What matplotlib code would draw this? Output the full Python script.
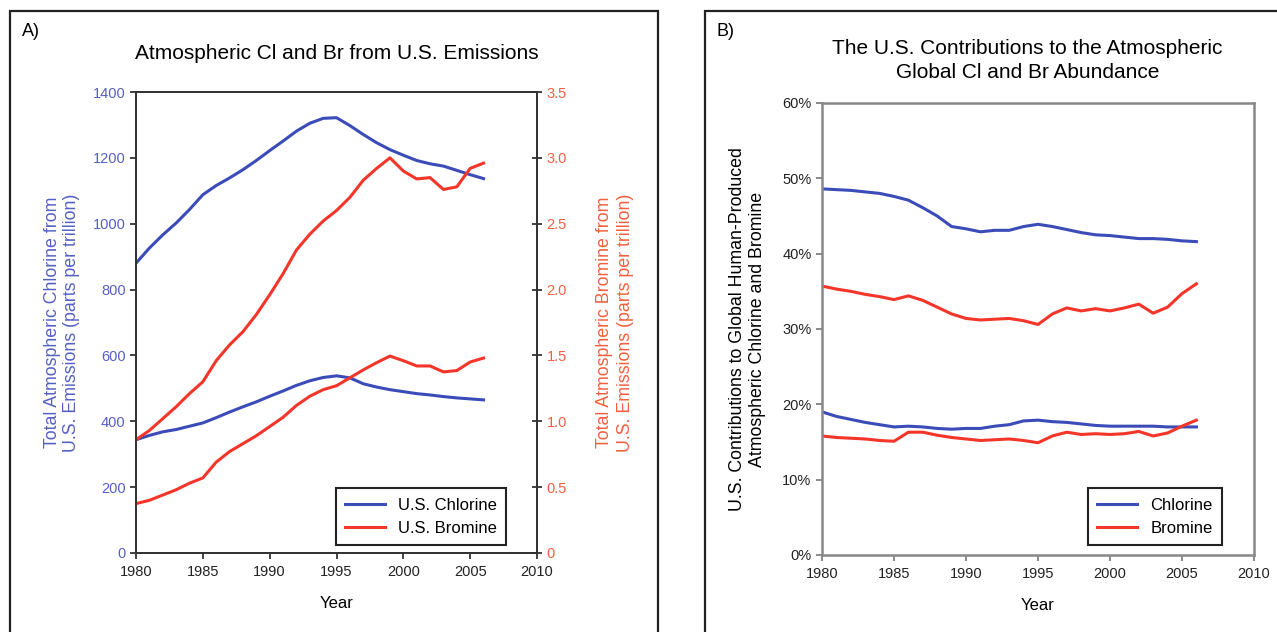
import matplotlib
matplotlib.use("Agg")
import matplotlib.pyplot as plt
from matplotlib.patches import Rectangle
from matplotlib.ticker import FixedLocator, FuncFormatter
import numpy as np

plt.rcParams['font.family'] = ['Liberation Sans', 'DejaVu Sans']

# data
years = np.arange(1980, 2007)

# panel A: ppt from U.S. emissions
cl_upper = [880, 926, 966, 1002, 1043, 1088, 1116, 1139, 1164, 1192, 1222, 1251, 1281, 1305,
            1320, 1322, 1298, 1271, 1246, 1225, 1208, 1192, 1182, 1175, 1162, 1149, 1137]
cl_lower = [344, 357, 368, 375, 385, 395, 411, 428, 444, 459, 476, 492, 509, 523,
            533, 538, 532, 514, 504, 496, 490, 484, 480, 475, 471, 468, 465]
br_upper = [0.86, 0.93, 1.02, 1.11, 1.21, 1.30, 1.46, 1.58, 1.68, 1.81, 1.96, 2.12, 2.30, 2.42,
            2.52, 2.60, 2.70, 2.83, 2.92, 3.00, 2.90, 2.84, 2.85, 2.76, 2.78, 2.92, 2.96]
br_lower = [0.375, 0.40, 0.44, 0.48, 0.53, 0.57, 0.69, 0.77, 0.83, 0.89, 0.96, 1.03, 1.12, 1.19,
            1.24, 1.27, 1.33, 1.39, 1.445, 1.495, 1.46, 1.42, 1.42, 1.375, 1.385, 1.45, 1.48]

# panel B: U.S. share of global human-produced Cl / Br (%)
pct_cl_upper = [48.6, 48.5, 48.4, 48.2, 48.0, 47.6, 47.1, 46.1, 45.0, 43.6, 43.3, 42.9, 43.1, 43.1,
                43.6, 43.9, 43.6, 43.2, 42.8, 42.5, 42.4, 42.2, 42.0, 42.0, 41.9, 41.7, 41.6]
pct_br_upper = [35.7, 35.3, 35.0, 34.6, 34.3, 33.9, 34.4, 33.8, 32.9, 32.0, 31.4, 31.2, 31.3, 31.4,
                31.1, 30.6, 32.0, 32.8, 32.4, 32.7, 32.4, 32.8, 33.3, 32.1, 32.9, 34.7, 36.0]
pct_cl_lower = [19.0, 18.4, 18.0, 17.6, 17.3, 17.0, 17.1, 17.0, 16.8, 16.7, 16.8, 16.8, 17.1, 17.3,
                17.8, 17.9, 17.7, 17.6, 17.4, 17.2, 17.1, 17.1, 17.1, 17.1, 17.0, 17.0, 17.0]
pct_br_lower = [15.8, 15.6, 15.5, 15.4, 15.2, 15.1, 16.3, 16.3, 15.9, 15.6, 15.4, 15.2, 15.3, 15.4,
                15.2, 14.9, 15.8, 16.3, 16.0, 16.1, 16.0, 16.1, 16.4, 15.8, 16.2, 17.1, 17.9]

xticks = [1980, 1985, 1990, 1995, 2000, 2005, 2010]
cl_ticks = [0, 200, 400, 600, 800, 1000, 1200, 1400]
br_ticks = [0, 0.5, 1.0, 1.5, 2.0, 2.5, 3.0, 3.5]
pct_ticks = [0, 10, 20, 30, 40, 50, 60]

BLUE = '#3b4cb8'
RED = '#f4352a'
BLUE_TXT = '#5560c4'
RED_TXT = '#f0603e'
W, H = 1277, 632
TICK_FS = 10.5
LAB_FS = 12.8
TITLE_FS = 15

fig = plt.figure(figsize=(12.77, 6.32), dpi=100)

# panel frames (cut off at the bottom / right like the original)
fig.patches.append(Rectangle((10 / W, -0.05), 648 / W, (632 - 11) / H + 0.05,
                             transform=fig.transFigure, fill=False, ec='#222222', lw=1.6))
fig.patches.append(Rectangle((705 / W, -0.05), 0.5, (632 - 11) / H + 0.05,
                             transform=fig.transFigure, fill=False, ec='#222222', lw=1.6))

# ---------------- panel A ----------------
ax1 = fig.add_axes([136 / W, 79 / H, 401 / W, 461 / H])
ax2 = ax1.twinx()
l1, = ax1.plot(years, cl_upper, color=BLUE, lw=2.2)
ax1.plot(years, cl_lower, color=BLUE, lw=2.2)
l2, = ax2.plot(years, br_upper, color=RED, lw=2.2)
ax2.plot(years, br_lower, color=RED, lw=2.2)

ax1.set_xlim(1980, 2010)
ax1.set_ylim(0, 1400)
ax2.set_ylim(0, 3.5)
ax1.set_xticks(xticks)
ax1.set_yticks(cl_ticks)
ax2.yaxis.set_major_locator(FixedLocator(br_ticks))
ax2.yaxis.set_major_formatter(FuncFormatter(lambda v, p: '0' if v == 0 else f'{v:.1f}'))
ax1.tick_params(axis='x', labelsize=TICK_FS, direction='out', length=4, width=1.2,
                colors='#222222', pad=5)
ax1.tick_params(axis='y', labelsize=TICK_FS, direction='out', length=4, width=1.2,
                colors='#222222', labelcolor=BLUE_TXT)
ax2.tick_params(axis='y', labelsize=TICK_FS, direction='inout', length=7, width=1.2,
                colors='#222222', labelcolor=RED_TXT)
for a in (ax1, ax2):
    for s in a.spines.values():
        s.set_color('#333333')
        s.set_linewidth(1.3)

ax1.set_ylabel('Total Atmospheric Chlorine from\nU.S. Emissions (parts per trillion)',
               color=BLUE_TXT, fontsize=LAB_FS, labelpad=9, linespacing=1.2)
ax2.set_ylabel('Total Atmospheric Bromine from\nU.S. Emissions (parts per trillion)',
               color=RED_TXT, fontsize=LAB_FS, rotation=90, labelpad=21, linespacing=1.25)
ax1.set_xlabel('Year', fontsize=12, labelpad=12)
ax1.set_title('Atmospheric Cl and Br from U.S. Emissions', fontsize=TITLE_FS, pad=24)

leg = ax2.legend([l1, l2], ['U.S. Chlorine', 'U.S. Bromine'], loc='lower right',
                 bbox_to_anchor=(0.923, 0.017), borderaxespad=0, fontsize=12, fancybox=False,
                 framealpha=1, edgecolor='#222222', handlelength=2.4, borderpad=0.55,
                 labelspacing=0.5)
leg.get_frame().set_linewidth(1.5)

fig.text(22 / W, 1 - 31 / H, 'A)', fontsize=13, va='center')

# ---------------- panel B ----------------
axb = fig.add_axes([822 / W, 77 / H, 432 / W, 452 / H])
axb.plot(years, pct_cl_upper, color=BLUE, lw=2.2, label='Chlorine')
axb.plot(years, pct_br_upper, color=RED, lw=2.2, label='Bromine')
axb.plot(years, pct_cl_lower, color=BLUE, lw=2.2)
axb.plot(years, pct_br_lower, color=RED, lw=2.2)
axb.set_xlim(1980, 2010)
axb.set_ylim(0, 60)
axb.set_xticks(xticks)
axb.set_yticks(pct_ticks)
axb.yaxis.set_major_formatter(FuncFormatter(lambda v, p: f'{v:.0f}%'))
axb.tick_params(labelsize=TICK_FS, direction='out', length=4, width=1.2, colors='#777777',
                labelcolor='#222222')
axb.tick_params(axis='x', pad=5)
for s in axb.spines.values():
    s.set_color('#888888')
    s.set_linewidth(1.8)
axb.set_ylabel('U.S. Contributions to Global Human-Produced\nAtmospheric Chlorine and Bromine',
               fontsize=LAB_FS, labelpad=12, linespacing=1.2)
axb.set_xlabel('Year', fontsize=12, labelpad=12)
axb.set_title('The U.S. Contributions to the Atmospheric\nGlobal Cl and Br Abundance',
              fontsize=TITLE_FS, pad=18, x=0.475, linespacing=1.35)
legb = axb.legend(loc='lower right', bbox_to_anchor=(0.926, 0.022), borderaxespad=0,
                  fontsize=12, fancybox=False, framealpha=1, edgecolor='#222222',
                  handlelength=2.4, borderpad=0.55, labelspacing=0.5)
legb.get_frame().set_linewidth(1.5)

fig.text(716 / W, 1 - 31 / H, 'B)', fontsize=13, va='center')

fig.savefig('out.png', dpi=100)
